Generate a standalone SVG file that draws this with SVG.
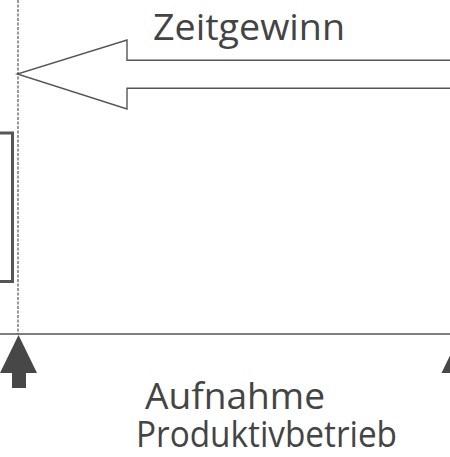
<svg xmlns="http://www.w3.org/2000/svg" width="450" height="457" viewBox="0 0 450 457">
  <style>
    .lbl { font-family: "Open Sans", "Noto Sans", "Liberation Sans", sans-serif; font-size: 36.5px; fill: #444; }
    .line { fill: none; stroke: #555; }
    .solid { fill: #474747; stroke: none; }
  </style>
  <rect width="450" height="457" fill="#fff"/>
  <g id="connectors">
    <!-- dashed marker line -->
    <line class="line" x1="18" y1="0" x2="18" y2="334" stroke="#555" stroke-width="1.2" stroke-dasharray="3 1.5"/>
    <!-- time axis -->
    <line class="line" x1="0" y1="334" x2="450" y2="334" stroke-width="1.6"/>
  </g>
  <g id="gain-arrow">
    <path class="line" stroke-width="1.4" d="M450 60.3 H127 V40 L17.3 74 L127 109 V88.3 H450"/>
  </g>
  <g id="gain-label">
    <text class="lbl" x="153" y="39.5" textLength="192" lengthAdjust="spacingAndGlyphs">Zeitgewinn</text>
  </g>
  <g id="phase-box">
    <rect class="line" x="-10" y="133" width="22.5" height="148.5" stroke-width="3"/>
  </g>
  <g id="start-marker">
    <path class="solid" d="M18.5 335 L37 373 H26 V388 H12 V373 H0 Z"/>
  </g>
  <g id="end-marker">
    <path class="solid" d="M460 335 L478.5 373 H467.5 V388 H453.5 V373 H441.5 Z"/>
  </g>
  <g id="production-label">
    <text class="lbl">
      <tspan x="145" y="409" textLength="180" lengthAdjust="spacingAndGlyphs">Aufnahme</tspan>
      <tspan x="136" y="447" textLength="261" lengthAdjust="spacingAndGlyphs">Produktivbetrieb</tspan>
    </text>
  </g>
</svg>
